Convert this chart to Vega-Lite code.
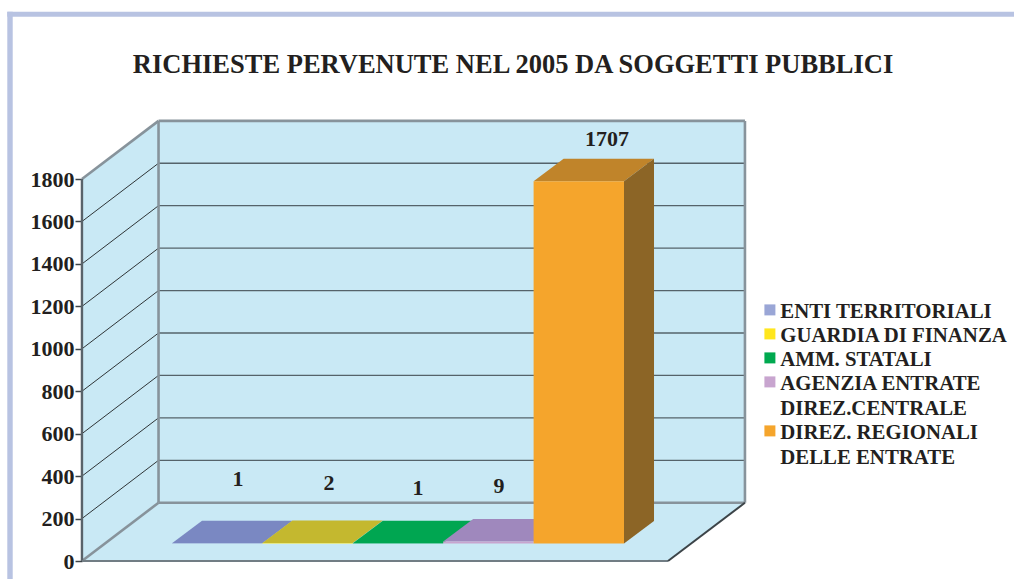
{
"$schema":"https://vega.github.io/schema/vega-lite/v6.json",
"width":1014,"height":579,"padding":0,"autosize":{"type":"none"},"background":"white",
"config":{"view":{"stroke":null},"font":"Liberation Serif"},
"title":{"text":"RICHIESTE PERVENUTE NEL 2005 DA SOGGETTI PUBBLICI","font":"Liberation Serif","fontWeight":"bold","fontSize":26.5,"color":"#231f20","anchor":"middle","offset":-99.5,"dx":6,"baseline":"alphabetic"},
"datasets":{
"main":[
{"ente":"ENTI TERRITORIALI","value":1,"slot":0,"slotEnd":100,"labelX":73,"labelY":386},
{"ente":"GUARDIA DI FINANZA","value":2,"slot":100,"slotEnd":200,"labelX":173.7,"labelY":367.6},
{"ente":"AMM. STATALI","value":1,"slot":200,"slotEnd":300,"labelX":272,"labelY":344},
{"ente":"AGENZIA ENTRATE DIREZ.CENTRALE","value":9,"slot":300,"slotEnd":400,"labelX":361.7,"labelY":353.4},
{"ente":"DIREZ. REGIONALI DELLE ENTRATE","value":1707,"slot":400,"slotEnd":500,"labelX":481.2,"labelY":1988.7}
],
"walls":[
{"face":"pageTop","o":1,"x":-182.2,"y":2588.6},{"face":"pageTop","o":2,"x":931.42,"y":2588.6},{"face":"pageTop","o":3,"x":931.42,"y":2565},{"face":"pageTop","o":4,"x":-182.2,"y":2565},
{"face":"pageLeft","o":1,"x":-182.2,"y":2588.6},{"face":"pageLeft","o":2,"x":-176.2,"y":2588.6},{"face":"pageLeft","o":3,"x":-176.2,"y":-84.8},{"face":"pageLeft","o":4,"x":-182.2,"y":-84.8},
{"face":"backWall","o":1,"x":-14.9,"y":274.5},{"face":"backWall","o":2,"x":633.8,"y":274.5},{"face":"backWall","o":3,"x":633.8,"y":2074},{"face":"backWall","o":4,"x":-14.9,"y":2074},
{"face":"leftWall","o":1,"x":-99.6,"y":0},{"face":"leftWall","o":2,"x":-14.9,"y":274.5},{"face":"leftWall","o":3,"x":-14.9,"y":2074},{"face":"leftWall","o":4,"x":-99.6,"y":1800},
{"face":"floor","o":1,"x":-99.6,"y":0},{"face":"floor","o":2,"x":-14.9,"y":274.5},{"face":"floor","o":3,"x":633.8,"y":274.5},{"face":"floor","o":4,"x":548.7,"y":0}
],
"faces":[
{"face":"topBlue","o":1,"x":0,"y":83.5},{"face":"topBlue","o":2,"x":100,"y":83.5},{"face":"topBlue","o":3,"x":133.2,"y":189.5},{"face":"topBlue","o":4,"x":33.2,"y":189.5},
{"face":"topYellow","o":1,"x":100,"y":84.5},{"face":"topYellow","o":2,"x":200,"y":84.5},{"face":"topYellow","o":3,"x":233.2,"y":190.5},{"face":"topYellow","o":4,"x":133.2,"y":190.5},
{"face":"topGreen","o":1,"x":200,"y":83.5},{"face":"topGreen","o":2,"x":300,"y":83.5},{"face":"topGreen","o":3,"x":333.2,"y":189.5},{"face":"topGreen","o":4,"x":233.2,"y":189.5},
{"face":"topPurple","o":1,"x":300,"y":91.5},{"face":"topPurple","o":2,"x":400,"y":91.5},{"face":"topPurple","o":3,"x":433.2,"y":197.5},{"face":"topPurple","o":4,"x":333.2,"y":197.5},
{"face":"topOrange","o":1,"x":400,"y":1789.5},{"face":"topOrange","o":2,"x":500,"y":1789.5},{"face":"topOrange","o":3,"x":533.2,"y":1895.5},{"face":"topOrange","o":4,"x":433.2,"y":1895.5},
{"face":"sideOrange","o":1,"x":500,"y":82.5},{"face":"sideOrange","o":2,"x":533.2,"y":188.5},{"face":"sideOrange","o":3,"x":533.2,"y":1895.5},{"face":"sideOrange","o":4,"x":500,"y":1789.5}
],
"grid":[
{"value":200,"back":474.5},{"value":400,"back":674.5},{"value":600,"back":874.5},{"value":800,"back":1074.5},{"value":1000,"back":1274.5},{"value":1200,"back":1474.5},{"value":1400,"back":1674.5},{"value":1600,"back":1874.5}
],
"frame":[
{"kind":"wall","x":-14.9,"y":2074,"x2":633.8,"y2":2074},
{"kind":"wall","x":-14.9,"y":274.5,"x2":-14.9,"y2":2074},
{"kind":"wall","x":633.8,"y":274.5,"x2":633.8,"y2":2074},
{"kind":"wall","x":-14.9,"y":274.5,"x2":633.8,"y2":274.5},
{"kind":"wall","x":-99.6,"y":1800,"x2":-14.9,"y2":2074},
{"kind":"wall","x":-99.6,"y":0,"x2":-14.9,"y2":274.5},
{"kind":"axis","x":-99.6,"y":0,"x2":-99.6,"y2":1800},
{"kind":"front","x":-99.6,"y":0,"x2":548.7,"y2":0},
{"kind":"edge","x":548.7,"y":0,"x2":633.8,"y2":274.5}
]
},
"layer":[
{"data":{"name":"walls"},
 "mark":{"type":"line","strokeWidth":0,"interpolate":"linear"},
 "encoding":{
  "x":{"field":"x","type":"quantitative","scale":{"domain":[-190.27,931.42],"nice":false,"zero":false},"axis":null},
  "y":{"field":"y","type":"quantitative","scale":{"domain":[-84.8,2643.7],"nice":false,"zero":false},
   "axis":{"orient":"left","offset":-82,"values":[0,200,400,600,800,1000,1200,1400,1600,1800],"format":"d","title":null,"grid":false,"domain":false,"tickSize":7,"tickWidth":1.5,"tickColor":"#3c4448","labelFont":"Liberation Serif","labelFontWeight":"bold","labelFontSize":22,"labelColor":"#231f20","labelPadding":1,"labelFlush":false,"labelOverlap":false}},
  "detail":{"field":"face"},
  "order":{"field":"o","type":"quantitative"},
  "fill":{"field":"face","type":"nominal","legend":null,"scale":{"domain":["pageTop","pageLeft","backWall","leftWall","floor","topBlue","topYellow","topGreen","topPurple","topOrange","sideOrange"],"range":["#b8c3e2","#b8c3e2","#c9e9f5","#c9e9f5","#c9e9f5","#7a88c2","#c4b82f","#00a651","#9f88bd","#c0842a","#8c6526"]}}
 }},
{"data":{"name":"grid"},
 "mark":{"type":"rule","stroke":"#2f3537","strokeWidth":1},
 "encoding":{"x":{"datum":-99.6,"type":"quantitative"},"x2":{"datum":-14.9},"y":{"field":"value","type":"quantitative"},"y2":{"field":"back"}}},
{"data":{"name":"grid"},
 "mark":{"type":"rule","stroke":"#55636a","strokeWidth":1.3},
 "encoding":{"x":{"datum":-14.9,"type":"quantitative"},"x2":{"datum":633.8},"y":{"field":"back","type":"quantitative"}}},
{"data":{"name":"frame"},
 "mark":{"type":"rule"},
 "encoding":{
  "x":{"field":"x","type":"quantitative"},"x2":{"field":"x2"},"y":{"field":"y","type":"quantitative"},"y2":{"field":"y2"},
  "stroke":{"field":"kind","type":"nominal","legend":null,"scale":{"domain":["wall","axis","front","edge"],"range":["#87939b","#59636a","#717d84","#3c4448"]}},
  "strokeWidth":{"field":"kind","type":"nominal","legend":null,"scale":{"domain":["wall","axis","front","edge"],"range":[2.6,2,1.8,1]}}
 }},
{"data":{"name":"faces"},
 "mark":{"type":"line","strokeWidth":0,"interpolate":"linear"},
 "encoding":{
  "x":{"field":"x","type":"quantitative"},
  "y":{"field":"y","type":"quantitative"},
  "detail":{"field":"face"},
  "order":{"field":"o","type":"quantitative"},
  "fill":{"field":"face","type":"nominal","legend":null}
 }},
{"data":{"name":"main"},
 "mark":{"type":"rect","yOffset":-17.5,"y2Offset":-17.5},
 "encoding":{
  "x":{"field":"slot","type":"quantitative"},"x2":{"field":"slotEnd"},
  "y":{"field":"value","type":"quantitative"},"y2":{"datum":0},
  "color":{"field":"ente","type":"nominal",
   "scale":{"domain":["ENTI TERRITORIALI","GUARDIA DI FINANZA","AMM. STATALI","AGENZIA ENTRATE DIREZ.CENTRALE","DIREZ. REGIONALI DELLE ENTRATE"],"range":["#9aa6d6","#ffe61e","#00a94f","#c8a5cf","#f5a52c"]},
   "legend":{"orient":"none","legendX":759.5,"legendY":299.5,"title":null,"symbolType":"square","symbolSize":121,"symbolStrokeWidth":0,"labelFont":"Liberation Serif","labelFontWeight":"bold","labelFontSize":20.8,"labelColor":"#231f20","labelLimit":400,"labelOffset":0,"rowPadding":1,"labelBaseline":"top",
    "labelExpr":"split(replace(replace(datum.label,' DIREZ.C','|DIREZ.C'),' DELLE','|DELLE'),'|')",
    "encode":{"labels":{"update":{"lineHeight":{"value":25},"dy":{"value":-8}}}}}
  }
 }},
{"data":{"name":"main"},
 "mark":{"type":"text","font":"Liberation Serif","fontWeight":"bold","fontSize":22,"color":"#231f20","baseline":"middle","align":"center"},
 "encoding":{"x":{"field":"labelX","type":"quantitative"},"y":{"field":"labelY","type":"quantitative"},"text":{"field":"value","type":"quantitative"}}}
]
}
